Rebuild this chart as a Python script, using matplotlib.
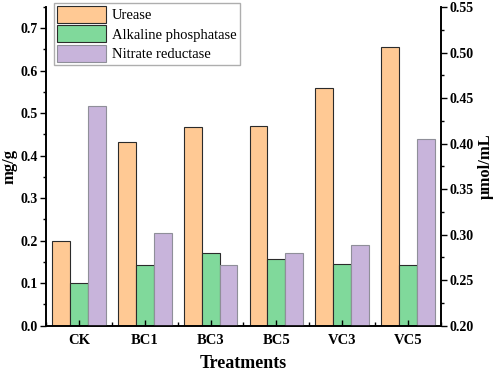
import numpy as np
import matplotlib
matplotlib.use("Agg")
from matplotlib import pyplot as plt
from matplotlib.ticker import MultipleLocator

treatments = ["CK", "BC1", "BC3", "BC5", "VC3", "VC5"]
urease = [0.200, 0.432, 0.467, 0.469, 0.559, 0.655]          # mg/g
alk_phosphatase = [0.100, 0.142, 0.170, 0.156, 0.146, 0.142]  # mg/g
nitrate_reductase = [0.441, 0.302, 0.267, 0.280, 0.288, 0.405]  # umol/mL

plt.rcParams["font.family"] = ["Liberation Serif", "DejaVu Serif"]

fig = plt.figure(figsize=(4.98, 3.71), dpi=100)
ax = fig.add_axes([0.0924, 0.1226, 0.7931, 0.8585])
ax2 = ax.twinx()

x = np.arange(len(treatments))
w = 0.272

b1 = ax.bar(x - w, urease, w, color="#FFC994", edgecolor="#2b2b2b", linewidth=0.8, label="Urease")
b2 = ax.bar(x, alk_phosphatase, w, color="#80D99B", edgecolor="#2b2b2b", linewidth=0.8,
            label="Alkaline phosphatase")
b3 = ax2.bar(x + w, nitrate_reductase, w, bottom=0, color="#C8B4DB", edgecolor="#8f8f99",
             linewidth=0.8, label="Nitrate reductase")

ax.set_xlim(-0.5, 5.5)
ax.set_ylim(0, 0.75)
ax2.set_ylim(0.20, 0.55)

ax.set_xticks(x)
ax.set_xticklabels(treatments, fontweight="bold", fontsize=10.5)
ax.xaxis.set_minor_locator(MultipleLocator(1.0, offset=0.5))
ax.tick_params(axis="x", which="major", direction="in", length=4, width=1, pad=6)
ax.tick_params(axis="x", which="minor", direction="in", length=3, width=1)

ax.yaxis.set_minor_locator(MultipleLocator(0.05))
ax.set_yticks(np.arange(0, 0.71, 0.1))
ax.tick_params(axis="y", which="major", direction="out", length=4, width=1, labelsize=10, pad=2)
ax.tick_params(axis="y", which="minor", direction="out", length=2.5, width=1)
for lbl in ax.get_yticklabels():
    lbl.set_fontweight("bold")

ax2.yaxis.set_minor_locator(MultipleLocator(0.025))
ax2.tick_params(axis="y", which="major", direction="out", length=4, width=1, labelsize=10, pad=2)
ax2.tick_params(axis="y", which="minor", direction="out", length=2.5, width=1)
ax2.set_yticks(np.arange(0.20, 0.551, 0.05))
ax2.set_yticklabels(["%.2f" % v for v in np.arange(0.20, 0.551, 0.05)], fontweight="bold")

for a in (ax, ax2):
    a.spines["top"].set_visible(False)
    for s in ("left", "right", "bottom"):
        a.spines[s].set_linewidth(1.2)

ax.set_ylabel("mg/g", fontweight="bold", fontsize=12, labelpad=2)
ax2.set_ylabel("μmol/mL", fontweight="bold", fontsize=12, labelpad=3)
ax.set_xlabel("Treatments", fontweight="bold", fontsize=13, labelpad=6)

leg = fig.legend(handles=[b1, b2, b3], loc="upper left", bbox_to_anchor=(0.108, 0.993),
                 fontsize=10.5, frameon=True, fancybox=False, handlelength=3.4,
                 handleheight=1.45, labelspacing=0.15, handletextpad=0.4,
                 borderpad=0.2, borderaxespad=0)
leg.get_frame().set_edgecolor("#9a9a9a")
leg.get_frame().set_linewidth(1.0)

fig.savefig("out.png", dpi=100)
